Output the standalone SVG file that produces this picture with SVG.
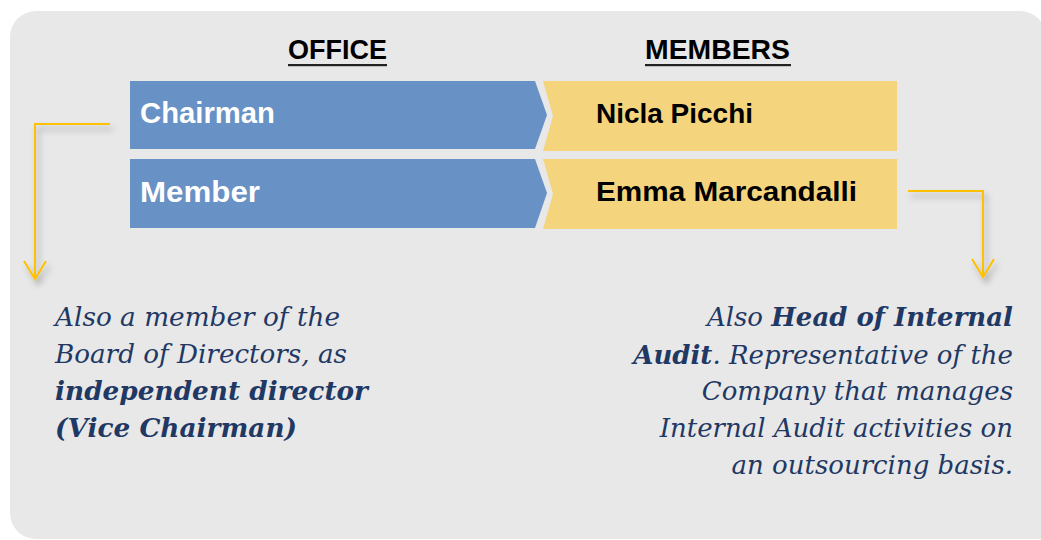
<svg xmlns="http://www.w3.org/2000/svg" width="1041" height="540" viewBox="0 0 1041 540">
<defs>
<style>
.hdr{font-family:"Liberation Sans",Arial,sans-serif;font-weight:bold;font-size:28px;fill:#000;}
.off{font-family:"Liberation Sans",Arial,sans-serif;font-weight:bold;font-size:29px;fill:#fff;}
.mem{font-family:"Liberation Sans",Arial,sans-serif;font-weight:bold;font-size:28px;fill:#000;}
.blue{fill:#6891C5;}
.gold{fill:#F4D47C;}
.note{font-family:"DejaVu Serif","Liberation Serif",serif;font-style:italic;font-size:26px;fill:#1F3864;}
.b{font-weight:bold;}
.conn{fill:none;stroke:#FFC000;stroke-width:2;}
</style>
<filter id="sh" x="-50%" y="-50%" width="200%" height="200%">
<feDropShadow dx="3" dy="5" stdDeviation="3" flood-color="#000" flood-opacity="0.3"/>
</filter>
</defs>
<rect x="0" y="0" width="1041" height="540" fill="#fff"/>
<path id="panel" d="M36,11 H1020 A26,26 0 0 1 1046,37 V539 H36 A26,26 0 0 1 10,513 V37 A26,26 0 0 1 36,11 Z" fill="#E8E8E8"/>
<g id="headers">
<text class="hdr" x="288" y="59" textLength="99" lengthAdjust="spacingAndGlyphs">OFFICE</text>
<rect x="288" y="64" width="99" height="2.2" fill="#222"/>
<text class="hdr" x="645" y="59" textLength="145" lengthAdjust="spacingAndGlyphs">MEMBERS</text>
<rect x="645" y="64" width="146" height="2.2" fill="#222"/>
</g>
<g id="office-chairman">
<polygon class="blue" points="130,81 535,81 547,115 535,149 130,149"/>
<text class="off" x="140" y="123" textLength="135" lengthAdjust="spacingAndGlyphs">Chairman</text>
</g>
<g id="member-nicla">
<polygon class="gold" points="543,81 897,81 897,151 543,151 553,116"/>
<text class="mem" x="596" y="123" textLength="157" lengthAdjust="spacingAndGlyphs">Nicla Picchi</text>
</g>
<g id="office-member">
<polygon class="blue" points="130,159 535,159 547,193 535,228 130,228"/>
<text class="off" x="140" y="202" textLength="120" lengthAdjust="spacingAndGlyphs">Member</text>
</g>
<g id="member-emma">
<polygon class="gold" points="543,159 897,159 897,229 543,229 553,194"/>
<text class="mem" x="596" y="201" textLength="261" lengthAdjust="spacingAndGlyphs">Emma Marcandalli</text>
</g>
<g id="connectors" filter="url(#sh)">
<path class="conn" d="M110,124 H35 V279"/>
<path class="conn" d="M24,261 L35,279 L46,261"/>
<path class="conn" d="M908,191 H983 V277"/>
<path class="conn" d="M972,259 L983,277 L994,259"/>
</g>
<g id="note-left">
<text class="note" x="55" y="326" textLength="285" lengthAdjust="spacingAndGlyphs">Also a member of the</text>
<text class="note" x="55" y="363" textLength="292" lengthAdjust="spacingAndGlyphs">Board of Directors, as</text>
<text class="note b" x="55" y="400" textLength="313" lengthAdjust="spacingAndGlyphs">independent director</text>
<text class="note b" x="55" y="437" textLength="242" lengthAdjust="spacingAndGlyphs">(Vice Chairman)</text>
</g>
<g id="note-right" text-anchor="end">
<text class="note" x="1013" y="326">Also <tspan class="b">Head of Internal</tspan></text>
<text class="note" x="1013" y="364"><tspan class="b">Audit</tspan>. Representative of the</text>
<text class="note" x="1013" y="400">Company that manages</text>
<text class="note" x="1013" y="437">Internal Audit activities on</text>
<text class="note" x="1013" y="474">an outsourcing basis.</text>
</g>
</svg>
